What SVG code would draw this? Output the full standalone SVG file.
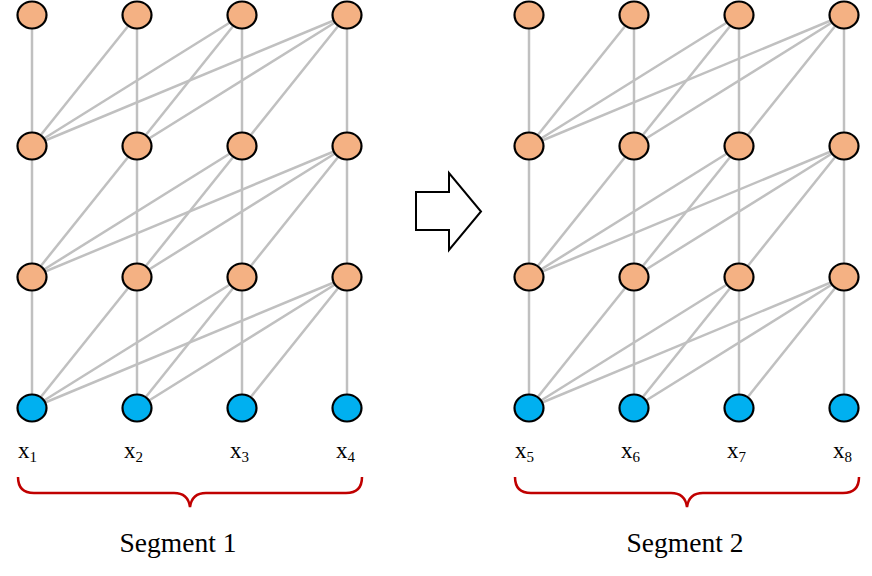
<svg xmlns="http://www.w3.org/2000/svg" width="872" height="576" viewBox="0 0 872 576">
<style>
.e{stroke:#c0c0c0;stroke-width:2.5;fill:none}
.h{fill:#F4B183;stroke:#000;stroke-width:2.2}
.i{fill:#00B0F0;stroke:#000;stroke-width:2.2}
.lbl{font-family:"Liberation Serif","DejaVu Serif",serif;font-size:23px;fill:#000}
.sub{font-size:15px}
.seg{font-family:"Liberation Serif","DejaVu Serif",serif;font-size:27.5px;fill:#000}
.brace{fill:none;stroke:#C00000;stroke-width:2.5}
</style>
<defs>
<g id="edges">
<line x1="0" y1="0" x2="0" y2="131"/><line x1="105" y1="0" x2="105" y2="131"/><line x1="210" y1="0" x2="210" y2="131"/><line x1="315" y1="0" x2="315" y2="131"/>
<line x1="105" y1="0" x2="0" y2="131"/>
<line x1="210" y1="0" x2="0" y2="131"/><line x1="210" y1="0" x2="105" y2="131"/>
<line x1="315" y1="0" x2="0" y2="131"/><line x1="315" y1="0" x2="105" y2="131"/><line x1="315" y1="0" x2="210" y2="131"/>
</g>
</defs>
<g id="connectors" class="e">
<use href="#edges" transform="translate(32,15)"/>
<use href="#edges" transform="translate(32,146)"/>
<use href="#edges" transform="translate(32,277)"/>
<use href="#edges" transform="translate(529,15)"/>
<use href="#edges" transform="translate(529,146)"/>
<use href="#edges" transform="translate(529,277)"/>
</g>
<g id="seg1-nodes">
<g id="s1-l3"><ellipse class="h" cx="32" cy="15" rx="14.5" ry="13.5"/><ellipse class="h" cx="137" cy="15" rx="14.5" ry="13.5"/><ellipse class="h" cx="242" cy="15" rx="14.5" ry="13.5"/><ellipse class="h" cx="347" cy="15" rx="14.5" ry="13.5"/></g>
<g id="s1-l2"><ellipse class="h" cx="32" cy="146" rx="14.5" ry="13.5"/><ellipse class="h" cx="137" cy="146" rx="14.5" ry="13.5"/><ellipse class="h" cx="242" cy="146" rx="14.5" ry="13.5"/><ellipse class="h" cx="347" cy="146" rx="14.5" ry="13.5"/></g>
<g id="s1-l1"><ellipse class="h" cx="32" cy="277" rx="14.5" ry="13.5"/><ellipse class="h" cx="137" cy="277" rx="14.5" ry="13.5"/><ellipse class="h" cx="242" cy="277" rx="14.5" ry="13.5"/><ellipse class="h" cx="347" cy="277" rx="14.5" ry="13.5"/></g>
<g id="s1-in"><ellipse class="i" cx="32" cy="408" rx="14.5" ry="13.5"/><ellipse class="i" cx="137" cy="408" rx="14.5" ry="13.5"/><ellipse class="i" cx="242" cy="408" rx="14.5" ry="13.5"/><ellipse class="i" cx="347" cy="408" rx="14.5" ry="13.5"/></g>
</g>
<g id="seg2-nodes">
<g id="s2-l3"><ellipse class="h" cx="529" cy="15" rx="14.5" ry="13.5"/><ellipse class="h" cx="634" cy="15" rx="14.5" ry="13.5"/><ellipse class="h" cx="739" cy="15" rx="14.5" ry="13.5"/><ellipse class="h" cx="844" cy="15" rx="14.5" ry="13.5"/></g>
<g id="s2-l2"><ellipse class="h" cx="529" cy="146" rx="14.5" ry="13.5"/><ellipse class="h" cx="634" cy="146" rx="14.5" ry="13.5"/><ellipse class="h" cx="739" cy="146" rx="14.5" ry="13.5"/><ellipse class="h" cx="844" cy="146" rx="14.5" ry="13.5"/></g>
<g id="s2-l1"><ellipse class="h" cx="529" cy="277" rx="14.5" ry="13.5"/><ellipse class="h" cx="634" cy="277" rx="14.5" ry="13.5"/><ellipse class="h" cx="739" cy="277" rx="14.5" ry="13.5"/><ellipse class="h" cx="844" cy="277" rx="14.5" ry="13.5"/></g>
<g id="s2-in"><ellipse class="i" cx="529" cy="408" rx="14.5" ry="13.5"/><ellipse class="i" cx="634" cy="408" rx="14.5" ry="13.5"/><ellipse class="i" cx="739" cy="408" rx="14.5" ry="13.5"/><ellipse class="i" cx="844" cy="408" rx="14.5" ry="13.5"/></g>
</g>
<g id="labels" class="lbl">
<text x="18" y="458">x<tspan class="sub" dy="4">1</tspan></text>
<text x="124" y="458">x<tspan class="sub" dy="4">2</tspan></text>
<text x="230" y="458">x<tspan class="sub" dy="4">3</tspan></text>
<text x="336" y="458">x<tspan class="sub" dy="4">4</tspan></text>
<text x="515" y="458">x<tspan class="sub" dy="4">5</tspan></text>
<text x="621" y="458">x<tspan class="sub" dy="4">6</tspan></text>
<text x="727" y="458">x<tspan class="sub" dy="4">7</tspan></text>
<text x="833" y="458">x<tspan class="sub" dy="4">8</tspan></text>
</g>
<g id="arrow">
<polygon points="416,192 449,192 449,173 481,211.5 449,250 449,230 416,230" fill="#fff" stroke="#000" stroke-width="2"/>
</g>
<g id="brace1">
<path class="brace" d="M18,477 Q18,493 34,493 H174 Q188,493 190,507 Q192,493 206,493 H346 Q362,493 362,477"/>
<text class="seg" x="178" y="552" text-anchor="middle">Segment 1</text>
</g>
<g id="brace2">
<path class="brace" d="M515,477 Q515,493 531,493 H671 Q685,493 687,507 Q689,493 703,493 H843 Q859,493 859,477"/>
<text class="seg" x="685" y="552" text-anchor="middle">Segment 2</text>
</g>
</svg>
